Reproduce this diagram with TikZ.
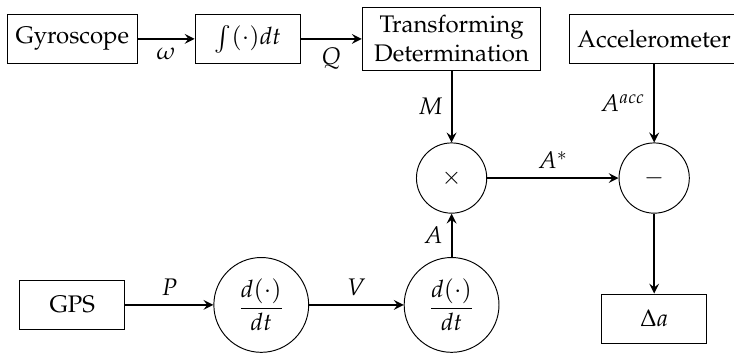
\documentclass[tikz,border=0pt]{standalone}
\usepackage[T1]{fontenc}
\usepackage{mathpazo}
\begin{document}
\begin{tikzpicture}[>=stealth,
  block/.style={draw,minimum width=1.54cm,minimum height=0.72cm},
  op/.style={draw,circle,minimum size=1.03cm},
  diff/.style={draw,circle,minimum size=1.39cm,inner sep=1pt},
  sig/.style={->,thick}]
 \useasboundingbox (0,0) rectangle (10.76,5.22);
 \node[block] (gyro) at (1.06,4.65) {Gyroscope};
 \node[block] (int) at (3.63,4.65) {$\int(\cdot)dt$};
 \node[block,align=center,inner xsep=5pt] (trans) at (6.62,4.65) {Transforming\\Determination};
 \node[block] (acc) at (9.59,4.65) {Accelerometer};
 \node[op] (mul) at (6.62,2.61) {$\times$};
 \node[op] (sub) at (9.59,2.61) {$-$};
 \node[block] (gps) at (1.06,0.75) {GPS};
 \node[diff] (d1) at (3.83,0.75) {$\displaystyle\frac{d(\cdot)}{dt}$};
 \node[diff] (d2) at (6.62,0.75) {$\displaystyle\frac{d(\cdot)}{dt}$};
 \node[block] (delta) at (9.59,0.55) {$\Delta a$};
 \draw[sig] (gyro) -- node[below] {$\omega$} (int);
 \draw[sig] (int) -- node[below] {$Q$} (trans);
 \draw[sig] (trans) -- node[left] {$M$} (mul);
 \draw[sig] (acc) -- node[left] {$A^{acc}$} (sub);
 \draw[sig] (mul) -- node[above] {$A^{*}$} (sub);
 \draw[sig] (gps) -- node[above] {$P$} (d1);
 \draw[sig] (d1) -- node[above] {$V$} (d2);
 \draw[sig] (d2) -- node[left] {$A$} (mul);
 \draw[sig] (sub) -- (delta);
\end{tikzpicture}
\end{document}
